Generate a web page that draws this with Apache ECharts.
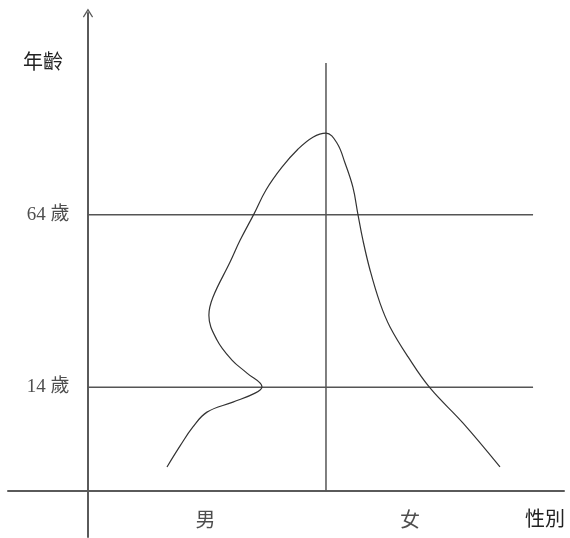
<!DOCTYPE html>
<html>
<head>
<meta charset="utf-8">
<title>年齡 性別</title>
<script src="https://cdn.jsdelivr.net/npm/echarts@6/dist/echarts.min.js"></script>
<style>
  html, body { margin: 0; padding: 0; background: #fff; }
  #main { width: 570px; height: 538px; }
</style>
</head>
<body>
<div id="main"></div>
<script>
// 年齡線（縱軸上的高度，以軸線為 0）
var ageNames = ['14 歲', '64 歲'];
var ageHeights = [30, 80];
var ageLineEnd = 187;

// 男女中線
var centerX = 100;
var centerTop = 124;

// 性別標籤
var sexNames = ['男', '女'];
var sexX = [49.4, 135.3];
var sexY = -8.2;

// 曲線：男（由下往上到頂點）
var maleCurve = [
  [33.2, 6.9], [38.7, 13.0], [44.1, 18.5], [50.0, 22.8], [60.9, 25.7],
  [70.2, 28.3], [73.1, 30.1], [66.8, 34.1], [60.5, 37.9], [54.2, 43.7],
  [50.8, 50.9], [52.5, 56.1], [59.7, 66.3], [63.9, 72.6], [69.7, 80.2],
  [74.8, 87.2], [81.5, 93.8], [88.2, 99.0], [94.5, 102.5], [100.0, 103.7]
];
// 曲線：女（由頂點往下）
var femaleCurve = [
  [104.6, 100.8], [108.0, 95.0], [111.3, 88.0], [113.4, 80.2], [115.5, 72.7],
  [118.5, 64.0], [122.7, 54.4], [126.9, 47.5], [134.5, 38.8], [143.7, 29.8],
  [157.6, 19.6], [173.1, 6.9]
];

var myChart = echarts.init(document.getElementById('main'));

var lineColor = '#5a5a5a';
var textColor = '#222';
var cjkFont = "'Noto Sans CJK TC', sans-serif";
var ageFont = "'Liberation Serif', 'Noto Sans CJK TC', serif";

var guideSeries = ageHeights.map(function (h) {
  return {
    type: 'line',
    data: [[0, h], [ageLineEnd, h]],
    symbol: 'none',
    lineStyle: { color: '#555', width: 1.5 },
    silent: true
  };
});

guideSeries.push({
  type: 'line',
  data: [[centerX, 0], [centerX, centerTop]],
  symbol: 'none',
  lineStyle: { color: '#555', width: 1.5 },
  silent: true
});

var labelData = ageNames.map(function (name, i) {
  return {
    value: [0, ageHeights[i]],
    name: name,
    label: { position: 'left', distance: 18, fontSize: 19, fontFamily: ageFont }
  };
}).concat(sexNames.map(function (name, i) {
  return {
    value: [sexX[i], sexY],
    name: name,
    label: { position: 'inside', fontSize: 20, fontFamily: cjkFont }
  };
}));

var option = {
  animation: false,
  grid: { left: 8, right: 6, top: 13, bottom: 1 },
  xAxis: {
    type: 'value',
    min: -33.6,
    max: 200,
    name: '性別',
    nameLocation: 'end',
    nameGap: -19,
    nameTextStyle: {
      color: textColor, fontSize: 20, fontFamily: cjkFont,
      align: 'center', verticalAlign: 'top', padding: [18, 0, 0, 0]
    },
    axisLine: { onZero: true, lineStyle: { color: lineColor, width: 2 } },
    axisTick: { show: false },
    axisLabel: { show: false },
    splitLine: { show: false }
  },
  yAxis: {
    type: 'value',
    min: -13.4,
    max: 138.5,
    name: '年齡',
    nameLocation: 'end',
    nameGap: -48,
    nameTextStyle: {
      color: textColor, fontSize: 20, fontFamily: cjkFont,
      align: 'right', verticalAlign: 'middle', padding: [0, 25, 0, 0]
    },
    axisLine: {
      onZero: true,
      symbol: ['none', 'path://M5,0 L10,8 L9,8.8 L5,2.4 L1,8.8 L0,8 Z'],
      symbolSize: [11, 9],
      lineStyle: { color: lineColor, width: 2 }
    },
    axisTick: { show: false },
    axisLabel: { show: false },
    splitLine: { show: false }
  },
  series: guideSeries.concat([
    {
      name: '年齡分布',
      type: 'line',
      data: maleCurve.concat(femaleCurve),
      smooth: 0.4,
      symbol: 'none',
      lineStyle: { color: '#333', width: 1.2 }
    },
    {
      type: 'scatter',
      data: labelData,
      symbolSize: 1,
      itemStyle: { color: 'rgba(0,0,0,0)' },
      label: {
        show: true,
        formatter: '{b}',
        color: textColor
      },
      silent: true
    }
  ])
};

myChart.setOption(option);
</script>
</body>
</html>
